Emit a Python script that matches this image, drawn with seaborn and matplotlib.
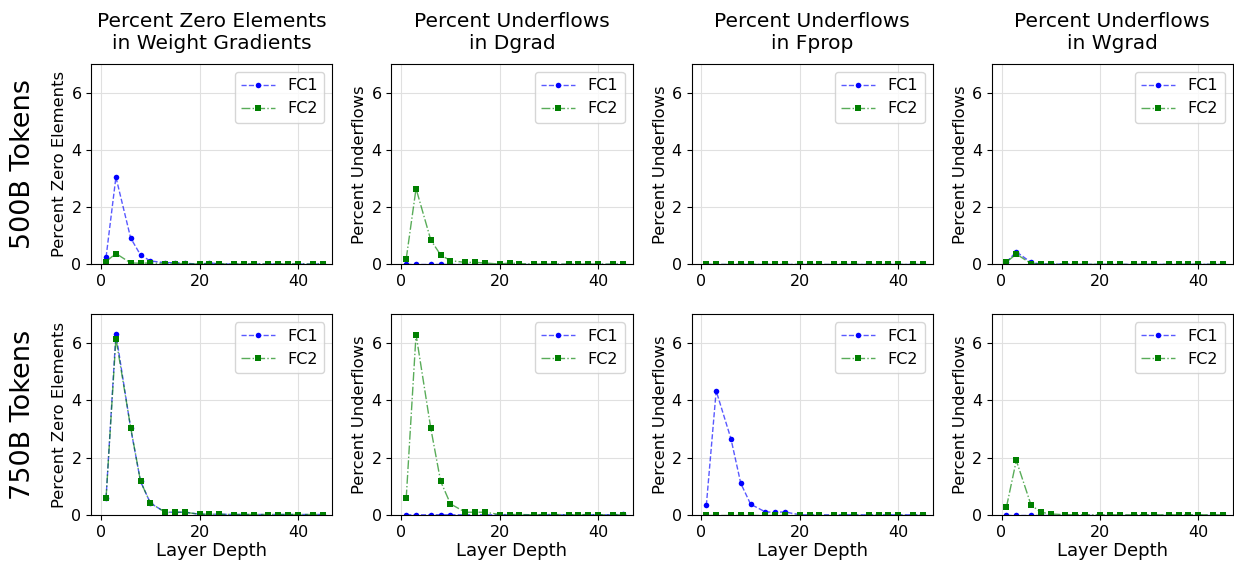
# underflow / zero-element stats per layer, two checkpoints
import numpy as np
import pandas as pd
import matplotlib
matplotlib.use("Agg")
import matplotlib.pyplot as plt
import seaborn as sns

# layer indices that were sampled
layers = [1, 3, 6, 8, 10, 13, 15, 17, 20, 22, 24, 27, 29, 31, 34, 36, 38, 40, 43, 45]

col_titles = ["Percent Zero Elements\nin Weight Gradients", "Percent Underflows\nin Dgrad",
              "Percent Underflows\nin Fprop", "Percent Underflows\nin Wgrad"]
col_ylabels = ["Percent Zero Elements", "Percent Underflows", "Percent Underflows", "Percent Underflows"]
row_labels = ["500B Tokens", "750B Tokens"]

# 500B tokens
zero_fc1_500 = [0.25, 3.05, 0.92, 0.33, 0.12, 0.06, 0.06, 0.04, 0.01, 0.05, 0.02, 0.01, 0.01, 0.01, 0.01, 0.01, 0.01, 0.01, 0.01, 0.01]
zero_fc2_500 = [0.1, 0.38, 0.05, 0.04, 0.05, 0.03, 0.03, 0.03, 0.01, 0.03, 0.02, 0.01, 0.01, 0.02, 0.01, 0.02, 0.01, 0.02, 0.01, 0.02]
dgrad_fc1_500 = [0.0] * 20
dgrad_fc2_500 = [0.19, 2.65, 0.85, 0.33, 0.13, 0.07, 0.07, 0.05, 0.01, 0.05, 0.03, 0.01, 0.01, 0.01, 0.01, 0.01, 0.01, 0.01, 0.01, 0.01]
fprop_fc1_500 = [0.0] * 20
fprop_fc2_500 = [0.0] * 20
wgrad_fc1_500 = [0.08, 0.44, 0.07, 0.01, 0.01, 0.01, 0.0, 0.0, 0.0, 0.0, 0.0, 0.0, 0.0, 0.0, 0.0, 0.0, 0.0, 0.0, 0.0, 0.0]
wgrad_fc2_500 = [0.08, 0.36, 0.03, 0.01, 0.01, 0.01, 0.0, 0.0, 0.0, 0.0, 0.0, 0.0, 0.0, 0.0, 0.0, 0.0, 0.0, 0.01, 0.0, 0.0]

# 750B tokens
zero_fc1_750 = [0.59, 6.33, 3.02, 1.17, 0.41, 0.09, 0.09, 0.09, 0.02, 0.02, 0.02, 0.01, 0.01, 0.01, 0.01, 0.01, 0.01, 0.01, 0.01, 0.01]
zero_fc2_750 = [0.59, 6.16, 3.05, 1.17, 0.41, 0.09, 0.09, 0.09, 0.02, 0.02, 0.02, 0.01, 0.01, 0.01, 0.01, 0.01, 0.01, 0.01, 0.01, 0.01]
dgrad_fc1_750 = [0.0] * 19 + [0.02]
dgrad_fc2_750 = [0.57, 6.3, 3.02, 1.17, 0.38, 0.09, 0.09, 0.09, 0.01, 0.01, 0.01, 0.0, 0.01, 0.01, 0.0, 0.0, 0.01, 0.0, 0.0, 0.0]
fprop_fc1_750 = [0.33, 4.33, 2.66, 1.1, 0.37, 0.1, 0.09, 0.1, 0.0, 0.0, 0.0, 0.0, 0.0, 0.0, 0.0, 0.0, 0.0, 0.0, 0.0, 0.0]
fprop_fc2_750 = [0.0] * 20
wgrad_fc1_750 = [0.0] * 20
wgrad_fc2_750 = [0.27, 1.9, 0.34, 0.09, 0.03, 0.0, 0.0, 0.0, 0.0, 0.0, 0.0, 0.0, 0.0, 0.0, 0.0, 0.0, 0.0, 0.0, 0.0, 0.0]

grid = [
    [(zero_fc1_500, zero_fc2_500), (dgrad_fc1_500, dgrad_fc2_500),
     (fprop_fc1_500, fprop_fc2_500), (wgrad_fc1_500, wgrad_fc2_500)],
    [(zero_fc1_750, zero_fc2_750), (dgrad_fc1_750, dgrad_fc2_750),
     (fprop_fc1_750, fprop_fc2_750), (wgrad_fc1_750, wgrad_fc2_750)],
]

fig, axes = plt.subplots(2, 4, figsize=(12.34, 5.62), dpi=100)
fig.subplots_adjust(left=0.074, right=0.999, top=0.886, bottom=0.084, wspace=0.245, hspace=0.25)

for r in range(2):
    for c in range(4):
        ax = axes[r, c]
        fc1, fc2 = grid[r][c]
        df = pd.DataFrame({"layer": layers, "FC1": fc1, "FC2": fc2})
        sns.lineplot(data=df, x="layer", y="FC1", ax=ax, color="blue", linestyle="--",
                     marker="o", markersize=4, markeredgewidth=0, linewidth=1, label="FC1")
        sns.lineplot(data=df, x="layer", y="FC2", ax=ax, color="green", linestyle="-.",
                     marker="s", markersize=4, markeredgewidth=0, linewidth=1, label="FC2")
        # lighter line, solid markers
        for ln, col in zip(ax.get_lines(), ["blue", "green"]):
            ln.set_color(matplotlib.colors.to_rgba(col, 0.65))
            ln.set_markerfacecolor(col)
            ln.set_markeredgecolor(col)
        ax.set_ylim(0, 7)
        ax.set_xlim(-2, 47)
        ax.set_xticks([0, 20, 40])
        ax.set_yticks([0, 2, 4, 6])
        ax.grid(True, color="#e0e0e0", linewidth=0.8)
        ax.tick_params(labelsize=11.5)
        ax.set_ylabel(col_ylabels[c], fontsize=11.8, labelpad=3)
        if r == 1:
            ax.set_xlabel("Layer Depth", fontsize=13, labelpad=2)
        else:
            ax.set_xlabel("")
            ax.set_title(col_titles[c], fontsize=14.5, pad=11)
        ax.legend(loc="upper right", fontsize=11.5, handlelength=2.1)

for r, lab in enumerate(row_labels):
    pos = axes[r, 0].get_position()
    fig.text(0.019, (pos.y0 + pos.y1) / 2, lab, rotation=90, fontsize=19.5, ha="center", va="center")

fig.savefig("out.png", dpi=100)
